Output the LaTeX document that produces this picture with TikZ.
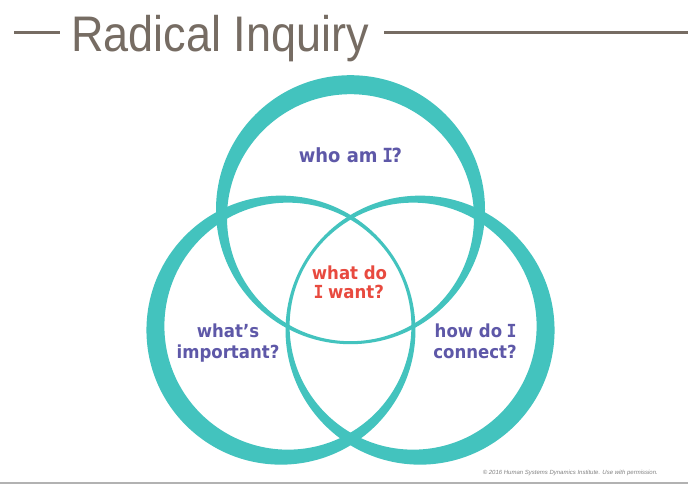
\documentclass[tikz,border=0pt]{standalone}
\usepackage{fontspec}
\setmainfont{Liberation Sans}
\newfontfamily\qfont{DejaVu Sans}
\newfontfamily\monoIfont{DejaVu Sans Mono}
\newcommand\serifI{\kern-0.08em{\monoIfont\bfseries I}\kern-0.08em}
\usetikzlibrary{calc}
\definecolor{ringc}{RGB}{67,195,190}
\definecolor{purq}{RGB}{94,88,168}
\definecolor{redq}{RGB}{232,74,63}
\definecolor{titlec}{RGB}{118,108,99}
\definecolor{rulec}{RGB}{178,178,178}
\definecolor{copyc}{RGB}{130,130,130}
\tikzset{
  ring/.style={fill=ringc, even odd rule},
  qtext/.style={font=\qfont\bfseries\fontsize{18}{20}\selectfont, inner sep=0pt, xscale=0.92, anchor=base},
  titleline/.style={draw=titlec, line width=3pt},
}
\begin{document}
\begin{tikzpicture}[x=1pt,y=1pt]
\useasboundingbox (0,0) rectangle (688,485);
\fill[white] (0,0) rectangle (688,485);
\coordinate (G) at (350.5,195);
\foreach \a in {90,210,330}{
  \fill[ring] ($(G)+(\a:80.3)$) circle[radius=134.5] ($(G)+(\a:72.3)$) circle[radius=123.5];
}
% title
\node[anchor=base west, font=\fontsize{50}{50}\selectfont, text=titlec, xscale=0.9, inner sep=0pt] (title) at (71,433) {Radical Inquiry};
\coordinate (l1a) at (14,452);
\coordinate (l1b) at (60,452);
\coordinate (l2a) at (384,452);
\coordinate (l2b) at (688,452);
\draw[titleline] (l1a) -- (l1b);
\draw[titleline] (l2a) -- (l2b);
% questions
\node[qtext, text=purq, font=\qfont\bfseries\fontsize{19.5}{20}\selectfont] (who) at (350.5,322) {who am \serifI?};
\node[qtext, text=redq] (want1) at (349.5,205) {what do};
\node[qtext, text=redq] (want2) at (349.5,186) {\serifI\ want?};
\node[qtext, text=purq] (imp1) at (228,147) {what’s};
\node[qtext, text=purq] (imp2) at (228,127) {important?};
\node[qtext, text=purq] (con1) at (475,147) {how do \serifI};
\node[qtext, text=purq] (con2) at (475,127) {connect?};
% footer
\node[anchor=base east, inner sep=0pt, font=\itshape\fontsize{6}{7}\selectfont, text=copyc] (copy) at (658,11) {© 2016 Human Systems Dynamics Institute. Use with permission.};
\coordinate (ba) at (0,2);
\coordinate (bb) at (688,2);
\draw[rulec, line width=1.5pt] (ba) -- (bb);
\end{tikzpicture}
\end{document}
